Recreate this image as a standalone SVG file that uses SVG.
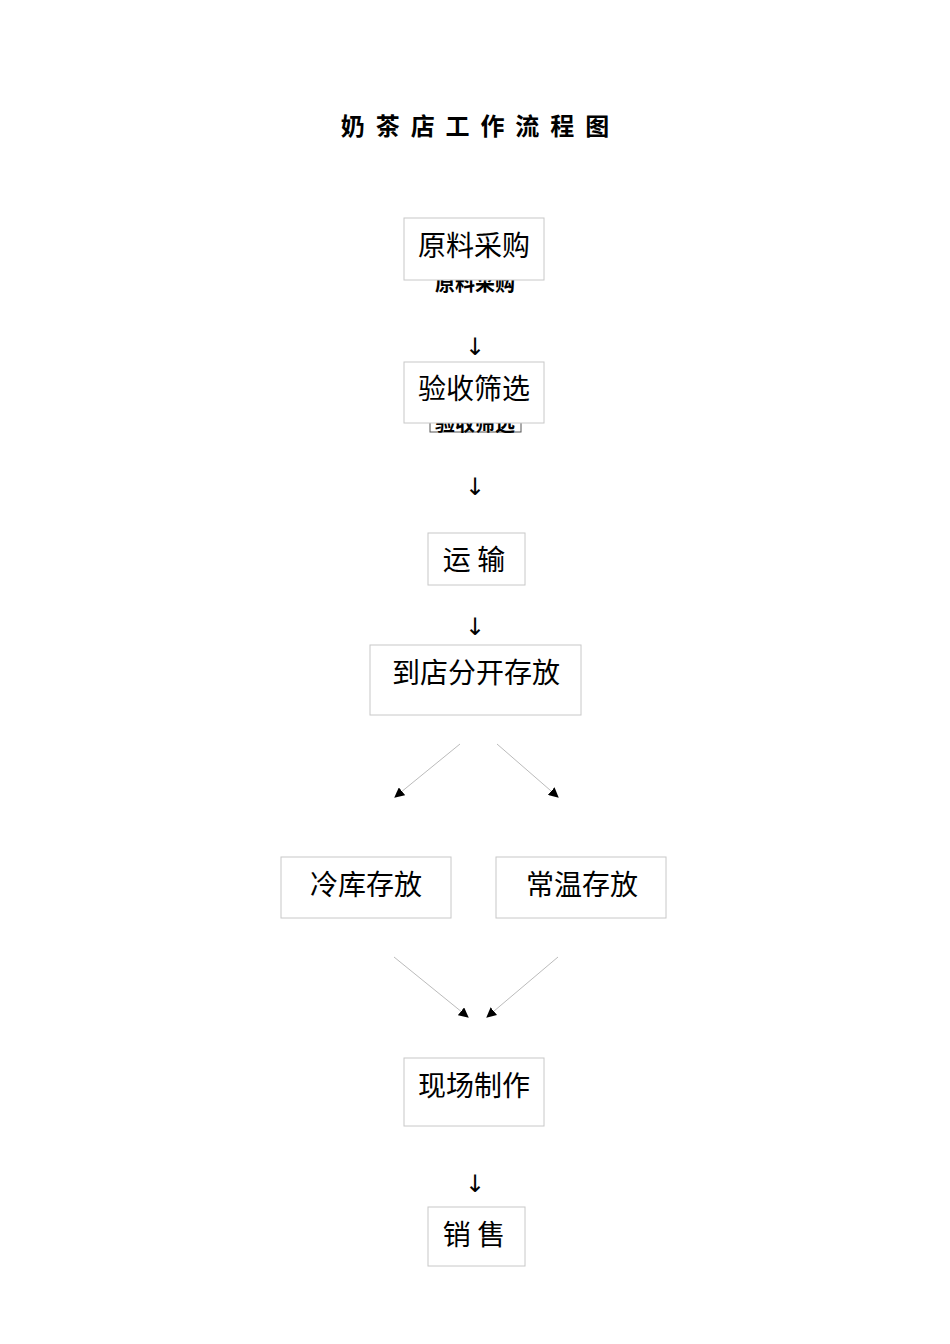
<svg xmlns="http://www.w3.org/2000/svg" width="950" height="1344" viewBox="0 0 950 1344">
<style>
text{font-family:"Noto Sans CJK SC","Liberation Sans",sans-serif;text-anchor:middle;fill:#000}
.box{fill:#fff;stroke:#c8c8c8;stroke-width:1}
.lbl{font-size:28px}
.ar{font-size:24px;font-family:"DejaVu Sans",sans-serif}
.ln{stroke:#bbb;stroke-width:1;fill:none;marker-end:url(#m)}
</style>
<defs><marker id="m" viewBox="0 0 10 10" refX="9" refY="5" markerWidth="10" markerHeight="10" markerUnits="userSpaceOnUse" orient="auto"><path d="M0,0L10,5L0,10z" fill="#000"/></marker></defs>
<rect width="950" height="1344" fill="#fff"/>
<text x="475" y="135" font-size="24" font-weight="bold" xml:space="preserve">奶  茶  店  工  作  流  程  图</text>
<text x="475" y="291" font-size="20" font-weight="bold">原料采购</text>
<rect x="430" y="412" width="91" height="20" fill="none" stroke="#555"/>
<text x="475" y="431" font-size="20" font-weight="bold">验收筛选</text>
<g id="n1"><rect class="box" x="404" y="218" width="140" height="62"/><text class="lbl" x="474" y="256">原料采购</text></g>
<g id="n2"><rect class="box" x="404" y="362" width="140" height="61"/><text class="lbl" x="474" y="399">验收筛选</text></g>
<g id="n3"><rect class="box" x="428" y="533" width="97" height="52"/><text class="lbl" x="474" y="570">运 输</text></g>
<g id="n4"><rect class="box" x="370" y="645" width="211" height="70"/><text class="lbl" x="476" y="683">到店分开存放</text></g>
<g id="n5"><rect class="box" x="281" y="857" width="170" height="61"/><text class="lbl" x="366" y="895">冷库存放</text></g>
<g id="n6"><rect class="box" x="496" y="857" width="170" height="61"/><text class="lbl" x="582" y="895">常温存放</text></g>
<g id="n7"><rect class="box" x="404" y="1058" width="140" height="68"/><text class="lbl" x="474" y="1096">现场制作</text></g>
<g id="n8"><rect class="box" x="428" y="1207" width="97" height="59"/><text class="lbl" x="474" y="1245">销 售</text></g>
<g id="connectors">
<text class="ar" x="475" y="355">↓</text>
<text class="ar" x="475" y="495">↓</text>
<text class="ar" x="475" y="635">↓</text>
<text class="ar" x="475" y="1192">↓</text>
<line class="ln" x1="460" y1="744" x2="395" y2="797"/>
<line class="ln" x1="497" y1="744" x2="558" y2="797"/>
<line class="ln" x1="394" y1="957" x2="468" y2="1017"/>
<line class="ln" x1="558" y1="957" x2="487" y2="1017"/>
</g>
</svg>
